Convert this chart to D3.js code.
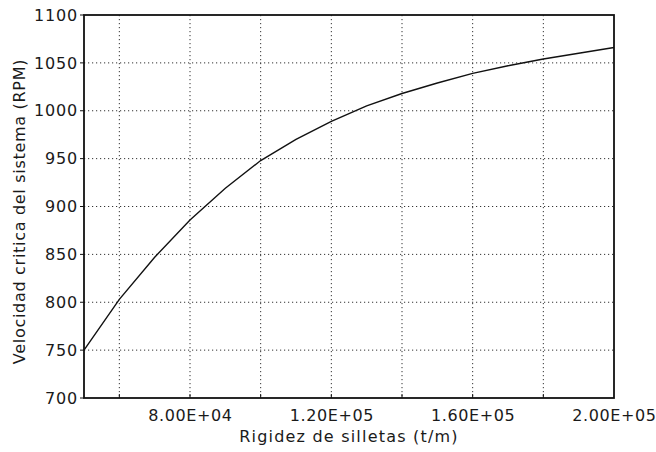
<!DOCTYPE html>
<html lang="es">
<head>
    <meta charset="UTF-8">
    <title>Velocidad critica vs rigidez de silletas</title>
    <script src="https://d3js.org/d3.v7.min.js"></script>
    <style>
        body { margin: 0; background: #fff; }
        text { font-family: "DejaVu Sans", sans-serif; fill: #1a1a1a; }
        .grid line { stroke: #333; stroke-width: 1; stroke-dasharray: 1.2, 2.8; }
        .frame { fill: none; stroke: #111; stroke-width: 1.8; }
        .curve { fill: none; stroke: #111; stroke-width: 1.4; }
    </style>
</head>
<body>
    <svg width="656" height="452"></svg>
    <script>
        // datos
        const rigidez = [5e4, 6e4, 7e4, 8e4, 9e4, 1e5, 1.1e5, 1.2e5, 1.3e5, 1.4e5, 1.5e5, 1.6e5, 1.7e5, 1.8e5, 1.9e5, 2e5];
        const velocidad = [750, 803, 847, 886, 919, 948, 970, 989, 1005, 1018, 1029, 1039, 1047, 1054, 1060, 1066];
        const xGrid = [6e4, 8e4, 1e5, 1.2e5, 1.4e5, 1.6e5, 1.8e5];
        const xLabels = [8e4, 1.2e5, 1.6e5, 2e5];
        const yTicks = [700, 750, 800, 850, 900, 950, 1000, 1050, 1100];

        const margin = {top: 15, right: 42, bottom: 54, left: 84};
        const width = 656, height = 452;
        const w = width - margin.left - margin.right;
        const h = height - margin.top - margin.bottom;

        const svg = d3.select('svg');
        const g = svg.append('g').attr('transform', `translate(${margin.left},${margin.top})`);

        const x = d3.scaleLinear().domain([5e4, 2e5]).range([0, w]);
        const y = d3.scaleLinear().domain([700, 1100]).range([h, 0]);

        // rejilla punteada
        const grid = g.append('g').attr('class', 'grid');
        grid.selectAll('.vx').data(xGrid).enter().append('line')
            .attr('x1', d => x(d)).attr('x2', d => x(d))
            .attr('y1', 0).attr('y2', h);
        grid.selectAll('.hy').data(yTicks.slice(1, -1)).enter().append('line')
            .attr('x1', 0).attr('x2', w)
            .attr('y1', d => y(d)).attr('y2', d => y(d));

        // ejes
        const xAxis = d3.axisBottom(x).tickValues(xLabels)
            .tickFormat(d => d.toExponential(2).toUpperCase().replace(/E\+(\d)$/, 'E+0$1'))
            .tickSize(0).tickPadding(12);
        const gx = g.append('g').attr('transform', `translate(0,${h})`).call(xAxis);
        gx.select('.domain').remove();
        gx.selectAll('text').style('font-size', '16px').style('letter-spacing', '0.6px');

        const yAxis = d3.axisLeft(y).tickValues(yTicks).tickFormat(d3.format('d'))
            .tickSize(0).tickPadding(6);
        const gy = g.append('g').call(yAxis);
        gy.select('.domain').remove();
        gy.selectAll('text').style('font-size', '16px').style('letter-spacing', '0.8px');

        // marcas interiores pequenas
        g.append('g').selectAll('line').data(xGrid).enter().append('line')
            .attr('x1', d => x(d)).attr('x2', d => x(d))
            .attr('y1', h).attr('y2', h - 4).attr('stroke', '#111');
        g.append('g').selectAll('line').data(yTicks).enter().append('line')
            .attr('x1', -4).attr('x2', 0)
            .attr('y1', d => y(d)).attr('y2', d => y(d)).attr('stroke', '#111');

        // curva
        const line = d3.line().x((d, i) => x(rigidez[i])).y(d => y(d));
        g.append('path').datum(velocidad).attr('class', 'curve').attr('d', line);

        g.append('rect').attr('class', 'frame').attr('width', w).attr('height', h);

        // titulos
        svg.append('text')
            .attr('x', margin.left + w / 2).attr('y', 442)
            .attr('text-anchor', 'middle')
            .style('font-size', '16px').style('letter-spacing', '1.2px')
            .text('Rigidez de silletas (t/m)');
        svg.append('text')
            .attr('transform', `translate(25,${margin.top + h / 2 + 5}) rotate(-90)`)
            .attr('text-anchor', 'middle')
            .style('font-size', '16px').style('letter-spacing', '0.7px')
            .text('Velocidad critica del sistema (RPM)');
    </script>
</body>
</html>
